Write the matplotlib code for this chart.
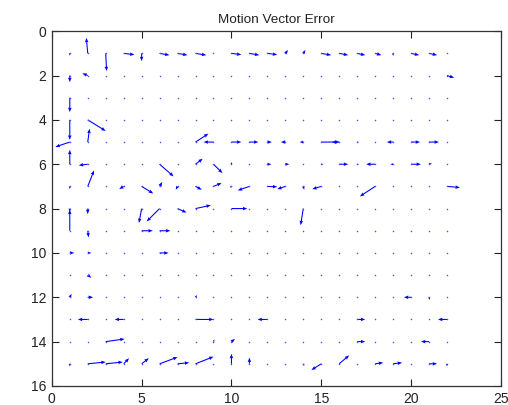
import numpy as np
import matplotlib.pyplot as plt

plt.rcParams['font.family'] = ['Liberation Sans', 'DejaVu Sans']

# block grid
n_cols = 22
n_rows = 15

# non-zero motion vector errors: column, row, dx, dy (dy > 0 points down)
col = [1, 2, 3, 4, 5, 6, 7, 8, 10, 11, 12, 13, 14, 15, 16, 17, 18, 19, 20, 21,
       1, 2, 22,
       1,
       1, 2,
       1, 2, 8, 9, 10, 11, 12, 13, 14, 15, 16, 17, 19, 20, 21,
       1, 2, 6, 8, 9, 10, 12, 13, 15, 16, 17, 18, 19, 20, 21,
       1, 2, 4, 5, 6, 7, 8, 9, 10, 11, 12, 13, 14, 15, 18, 22,
       1, 2, 5, 6, 7, 8, 10, 14,
       1, 2, 5, 6,
       1, 2, 6,
       2,
       1, 2, 8, 20, 21,
       2, 4, 8, 12, 17, 22,
       3, 9, 10, 17, 21,
       1, 2, 3, 4, 5, 6, 7, 8, 10, 11, 14, 15, 16, 18, 19, 21, 22]
row = [1] * 20 + [2] * 3 + [3] + [4] * 2 + [5] * 15 + [6] * 15 + [7] * 16 + \
      [8] * 8 + [9] * 4 + [10] * 3 + [11] + [12] * 5 + [13] * 6 + [14] * 5 + [15] * 17
dx = [0.0, -0.08, 0.05, 0.6, 0.0, 0.55, 0.55, 0.6, 0.55, 0.55, 0.55, 0.15, 0.12, 0.55, 0.5, 0.45, 0.35, 0.0, 0.45, 0.45,
      0.0, -0.3, 0.4,
      0.0,
      0.0, 1.0,
      -0.8, 0.1, 0.72, -0.55, 0.55, 0.5, 0.25, -0.25, -0.2, 1.0, -0.4, 0.1, -0.35, 0.5, 0.55,
      0.0, -0.5, 0.78, 0.4, 0.5, 0.0, 0.22, 0.22, 0.12, 0.5, 0.1, -0.5, -0.15, 0.55, 0.15,
      0.0, 0.35, -0.25, 0.65, 0.15, -0.1, 0.35, 0.45, -0.1, -0.65, 0.55, -0.45, 0.05, -0.5, -0.85, 0.72,
      0.0, 0.0, -0.15, -0.72, 0.5, 0.85, 0.88, -0.15,
      0.0, 0.05, 0.62, 0.6,
      0.25, 0.2, 0.5,
      0.2,
      0.1, 0.3, 0.08, -0.4, 0.05,
      -0.55, -0.5, 1.0, -0.55, 0.45, -0.5,
      1.05, 0.05, 0.2, 0.45, -0.45,
      0.0, 1.0, 0.95, 0.3, 0.4, 1.0, 0.65, 1.0, 0.0, 0.0, 0.05, -0.55, 0.55, 0.45, 0.5, 0.45, 0.0]
dy = [0.1, -0.7, 0.8, 0.06, 0.35, 0.08, 0.08, 0.08, 0.06, 0.08, 0.06, -0.15, -0.15, 0.08, 0.08, 0.08, 0.08, 0.12, 0.08, 0.08,
      0.3, -0.1, 0.1,
      0.65,
      0.9, 0.5,
      0.22, -0.6, -0.38, 0.0, 0.0, 0.0, 0.0, 0.0, 0.0, 0.0, 0.0, 0.0, 0.0, 0.0, 0.0,
      -0.65, 0.05, 0.55, -0.25, 0.4, -0.1, 0.0, 0.0, 0.0, 0.0, 0.0, 0.0, 0.0, 0.0, -0.05,
      0.12, -0.72, 0.12, 0.32, -0.2, 0.15, 0.15, -0.15, 0.05, 0.18, 0.02, 0.12, 0.15, 0.12, 0.45, 0.05,
      0.15, 0.25, 0.65, 0.58, 0.18, -0.15, 0.0, 0.75,
      -0.95, 0.3, 0.0, 0.0,
      0.0, 0.0, 0.0,
      0.12,
      -0.15, 0.0, -0.1, 0.0, 0.12,
      0.0, 0.0, 0.0, 0.0, 0.0, 0.0,
      -0.12, -0.1, -0.12, 0.0, 0.0,
      0.12, -0.08, -0.08, -0.25, -0.25, -0.3, -0.05, -0.32, -0.45, -0.28, 0.1, 0.28, -0.38, -0.05, -0.05, 0.0, 0.12]

gx, gy = np.meshgrid(np.arange(1, n_cols + 1), np.arange(1, n_rows + 1))
U = np.zeros(gx.shape)
V = np.zeros(gx.shape)
for c, r, u, v in zip(col, row, dx, dy):
    U[r - 1, c - 1] = u
    V[r - 1, c - 1] = v

fig = plt.figure(figsize=(5.08, 4.05), dpi=100)
ax = fig.add_axes([0.102, 0.047, 0.884, 0.876])

ax.plot(gx.ravel(), gy.ravel(), '.', color='#4d4dff', ms=2.2, mew=0)
moving = (U != 0) | (V != 0)
ax.quiver(gx[moving], gy[moving], U[moving], V[moving], color='b',
          angles='xy', scale_units='xy', scale=1,
          width=0.0024, headwidth=3.3, headlength=4.2, headaxislength=3.8)

ax.set_xlim(0, 25)
ax.set_ylim(16, 0)
ax.set_xticks(np.arange(0, 26, 5))
ax.set_yticks(np.arange(0, 17, 2))
ax.tick_params(direction='in', length=5, width=0.8, top=True, right=True,
               labelsize=10, colors='#222222', pad=4)
for s in ax.spines.values():
    s.set_color('#333333')
    s.set_linewidth(0.9)
ax.set_title('Motion Vector Error', fontsize=9.7, color='#222222', pad=6)

fig.savefig('out.png', dpi=100)
